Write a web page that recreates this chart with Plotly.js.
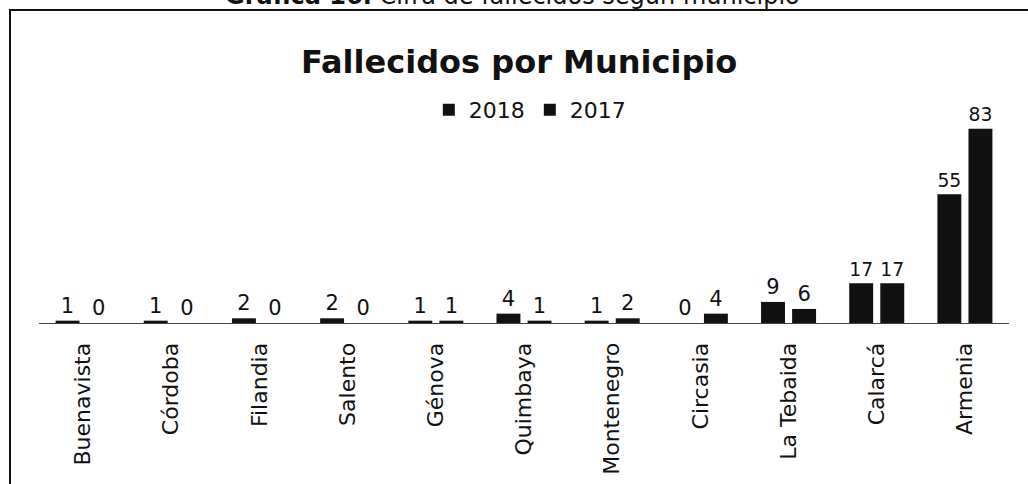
<!DOCTYPE html>
<html>
<head>
<meta charset="utf-8">
<script src="https://cdn.plot.ly/plotly-3.0.1.min.js"></script>
<style>html,body{margin:0;padding:0;background:#fff;}#chart{width:1028px;height:484px;}</style>
</head>
<body>
<div id="chart"></div>
<script>
const municipios = ["Buenavista","Córdoba","Filandia","Salento","Génova","Quimbaya","Montenegro","Circasia","La Tebaida","Calarcá","Armenia"];
const serie2018 = [1,1,2,2,1,4,1,0,9,17,55];
const serie2017 = [0,0,0,0,1,1,2,4,6,17,83];
const seriesNames = ["2018","2017"];

const FONT = "DejaVu Sans";
const mkTrace = (name, vals) => ({
  type: "bar", name: name, x: municipios, y: vals,
  text: vals.map(String), textposition: "outside", cliponaxis: false,
  textfont: {family: FONT, size: 21, color: "#111"},
  marker: {color: "#111", line: {width: 0}},
  hoverinfo: "x+y"
});

const data = [mkTrace(seriesNames[0], serie2018), mkTrace(seriesNames[1], serie2017)];

const layout = {
  width: 1028, height: 484,
  margin: {l: 39, r: 19, t: 110, b: 161},
  paper_bgcolor: "#fff", plot_bgcolor: "#fff",
  font: {family: FONT, color: "#111"},
  title: {text: "<b>Fallecidos por Municipio</b>", font: {family: FONT, size: 32, color: "#111"},
          x: 0.505, xanchor: "center", xref: "container", y: 0.872, yanchor: "middle", yref: "container"},
  barmode: "group", bargap: 0.295, bargroupgap: 0.23,
  showlegend: true,
  legend: {orientation: "h", x: 0.506, xanchor: "center", y: 1.0, yanchor: "middle",
           font: {family: FONT, size: 22, color: "#111"}, itemclick: false, traceorder: "normal"},
  xaxis: {type: "category", showgrid: false, zeroline: false, showline: true, linecolor: "#444", linewidth: 1,
          tickangle: -90, tickfont: {family: FONT, size: 22, color: "#111"}, ticks: "", ticklabelstandoff: 10, fixedrange: true},
  yaxis: {range: [0, 91], visible: false, showgrid: false, zeroline: false, fixedrange: true},
  shapes: [
    {type: "rect", xref: "paper", yref: "paper", x0: -0.0299, x1: 1.06, y0: -1.0, y1: 1.469,
     line: {color: "#111", width: 2}, fillcolor: "rgba(0,0,0,0)", layer: "above"}
  ],
  annotations: [
    {text: "<b>Gráfica 16.</b> Cifra de fallecidos según municipio", xref: "paper", yref: "paper",
     x: 0.488, xanchor: "center", y: 1.462, yanchor: "bottom", showarrow: false,
     font: {family: FONT, size: 24, color: "#111"}}
  ]
};

Plotly.newPlot("chart", data, layout, {displayModeBar: false, staticPlot: true});
</script>
</body>
</html>
